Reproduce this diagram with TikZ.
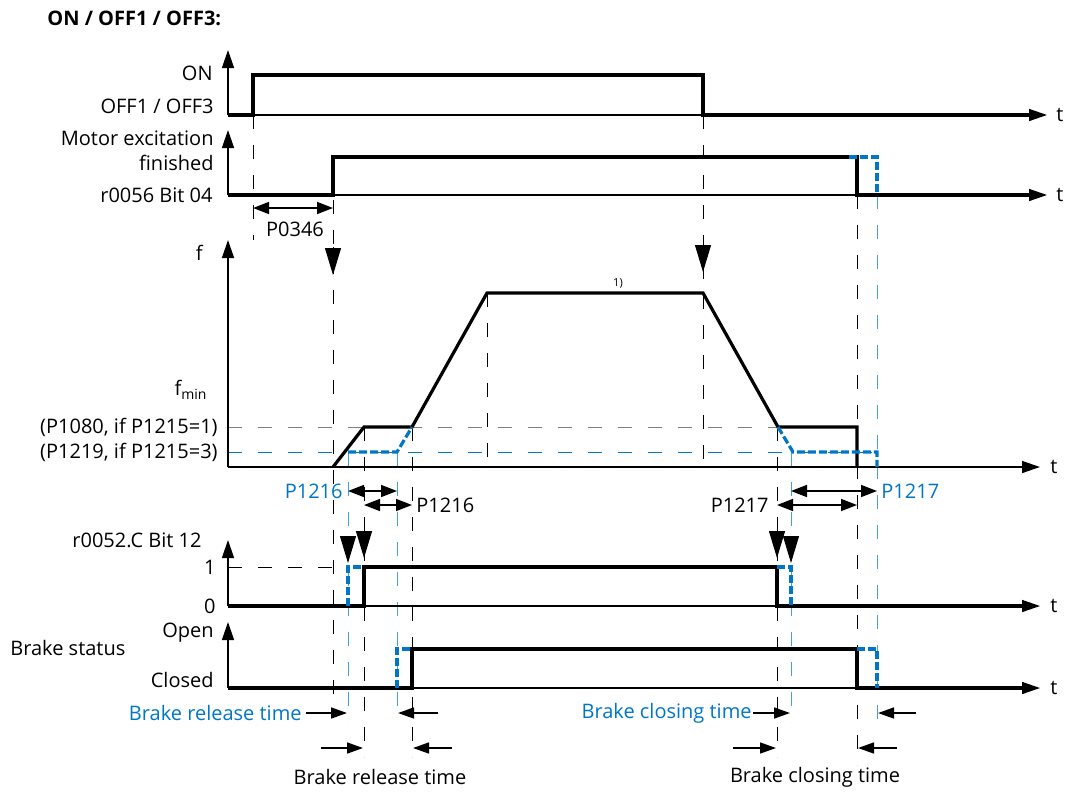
\documentclass[tikz,border=0pt]{standalone}
\usepackage{fontspec}
\setmainfont{Open Sans}
\usetikzlibrary{arrows.meta}
\definecolor{sblue}{RGB}{0,118,200}
\definecolor{lblue}{RGB}{70,160,222}

\begin{document}
\begin{tikzpicture}[x=0.5pt, y=-0.5pt,
  font=\fontsize{10}{12}\selectfont,
  ax/.style={line width=0.7pt, -{Triangle[width=6pt,length=9pt]}},
  sig/.style={line width=1.6pt},
  bsig/.style={line width=1.6pt, sblue, dash pattern=on 4pt off 1.5pt},
  guide/.style={line width=0.5pt, dash pattern=on 7pt off 8pt},
  bguide/.style={guide, lblue},
  dim/.style={line width=0.8pt, {Triangle[width=6pt,length=8pt]}-{Triangle[width=6pt,length=8pt]}},
  tarr/.style={line width=0.8pt, -{Triangle[width=5.5pt,length=8pt]}},
  trig/.style={line width=0.5pt, -{Triangle[width=8pt,length=13.5pt]}},
  lbl/.style={anchor=east, inner sep=1pt},
  tlbl/.style={anchor=west, inner sep=1pt}
]
\useasboundingbox (0,0) rectangle (1070,793);

% title
\node[anchor=west, inner sep=0pt, font=\fontsize{10}{12}\selectfont\bfseries] (title) at (47,18) {ON / OFF1 / OFF3:};

% guide lines
\draw[guide] (253,115) -- (253,240);
\draw[guide] (333,200) -- (333,695);
\draw[guide] (703,115) -- (703,467);
\draw[guide] (487,293) -- (487,467);
\draw[guide] (364,427) -- (364,757);
\draw[guide] (412,427) -- (412,757);
\draw[guide] (777,427) -- (777,757);
\draw[guide] (857,195) -- (857,765);
\draw[bguide] (348,452) -- (348,722);
\draw[bguide] (397,452) -- (397,722);
\draw[bguide] (791,452) -- (791,722);
\draw[bguide] (877,195) -- (877,722);
\draw[guide, gray] (228,427) -- (857,427);
\draw[guide, sblue] (228,452) -- (877,452);
\draw[guide] (228,567) -- (348,567);

% ON / OFF
\draw[ax] (228,115) -- (228,50);
\draw[ax] (228,115) -- (1047,115);
\draw[sig] (228,115) -- (253,115) -- (253,75) -- (703,75) -- (703,115) -- (1035,115);
\node[lbl] (on) at (215,73) {ON};
\node[lbl] (off) at (216,106) {OFF1 / OFF3};
\node[tlbl] (t1) at (1054,115) {t};

% motor excitation
\draw[ax] (228,195) -- (228,130);
\draw[ax] (228,195) -- (1047,195);
\draw[sig] (228,195) -- (333,195) -- (333,157) -- (857,157) -- (857,195) -- (1035,195);
\draw[bsig] (849,157) -- (877,157) -- (877,195);
\node[lbl] (exc) at (216,138) {Motor excitation};
\node[lbl] (fin) at (216,163) {finished};
\node[lbl] (r56) at (215,195) {r0056 Bit 04};
\node[tlbl] (t2) at (1054,195) {t};
\draw[dim] (253,208) -- (333,208);
\node (p0346) at (295,229) {P0346};

% frequency
\draw[trig] (333,247) -- (333,275);
\draw[trig] (703,244) -- (703,272);
\draw[ax] (228,467) -- (228,240);
\draw[ax] (228,467) -- (1040,467);
\draw[sig] (333,467) -- (364,427) -- (412,427) -- (487,293) -- (703,293) -- (778,427) -- (857,427) -- (857,467);
\draw[bsig] (348,452) -- (397,452) -- (412,427);
\draw[bsig] (778,427) -- (793,452) -- (877,452) -- (877,467);
\node[lbl] (f) at (205,253) {f};
\node (fmin) at (191,390) {f\textsubscript{min}};
\node[lbl] (p1080) at (220,427) {(P1080, if P1215=1)};
\node[lbl] (p1219) at (220,452) {(P1219, if P1215=3)};
\node[font=\fontsize{5.5}{6}\selectfont] (note) at (618,283) {1)};
\node[tlbl] (t3) at (1048,467) {t};

% P1216 / P1217
\draw[dim] (348,491) -- (397,491);
\draw[dim] (364,505) -- (412,505);
\node[lbl, sblue] (p1216b) at (345,491) {P1216};
\node[tlbl] (p1216) at (414,505) {P1216};
\draw[dim] (791,491) -- (877,491);
\draw[dim] (777,505) -- (857,505);
\node[lbl] (p1217) at (771,505) {P1217};
\node[tlbl, sblue] (p1217b) at (879,491) {P1217};

% r0052.C Bit 12
\draw[trig] (348,537) -- (348,563);
\draw[trig] (364,529) -- (364,558);
\draw[trig] (777,529) -- (777,558);
\draw[trig] (791,537) -- (791,563);
\draw[ax] (228,606) -- (228,540);
\draw[ax] (228,606) -- (1040,606);
\draw[sig] (228,606) -- (364,606) -- (364,567) -- (777,567) -- (777,606) -- (1028,606);
\draw[bsig] (348,606) -- (348,567) -- (364,567);
\draw[bsig] (777,567) -- (791,567) -- (791,606);
\node[lbl] (r52) at (204,540) {r0052.C Bit 12};
\node[lbl] (one) at (218,567) {1};
\node[lbl] (zero) at (218,606) {0};
\node[tlbl] (t4) at (1048,606) {t};

% brake status
\draw[ax] (228,688) -- (228,622);
\draw[ax] (228,688) -- (1040,688);
\draw[sig] (228,688) -- (412,688) -- (412,649) -- (857,649) -- (857,688) -- (1028,688);
\draw[bsig] (397,688) -- (397,649) -- (412,649);
\draw[bsig] (857,649) -- (877,649) -- (877,688);
\node[anchor=west, inner sep=1pt] (brake) at (8,648) {Brake status};
\node[lbl] (open) at (216,633) {Open};
\node[lbl] (closed) at (216,680) {Closed};
\node[tlbl] (t5) at (1048,688) {t};

% brake times
\node[lbl, sblue] (relb) at (304,713) {Brake release time};
\draw[tarr] (306,713) -- (347,713);
\draw[tarr] (438,713) -- (398,713);
\draw[tarr] (321,748) -- (363,748);
\draw[tarr] (452,748) -- (413,748);
\node (rel) at (380,777) {Brake release time};
\node[lbl, sblue] (closb) at (754,713) {Brake closing time};
\draw[tarr] (753,713) -- (790,713);
\draw[tarr] (916,713) -- (878,713);
\draw[tarr] (733,748) -- (776,748);
\draw[tarr] (897,748) -- (858,748);
\node (clos) at (815,777) {Brake closing time};
\end{tikzpicture}
\end{document}
